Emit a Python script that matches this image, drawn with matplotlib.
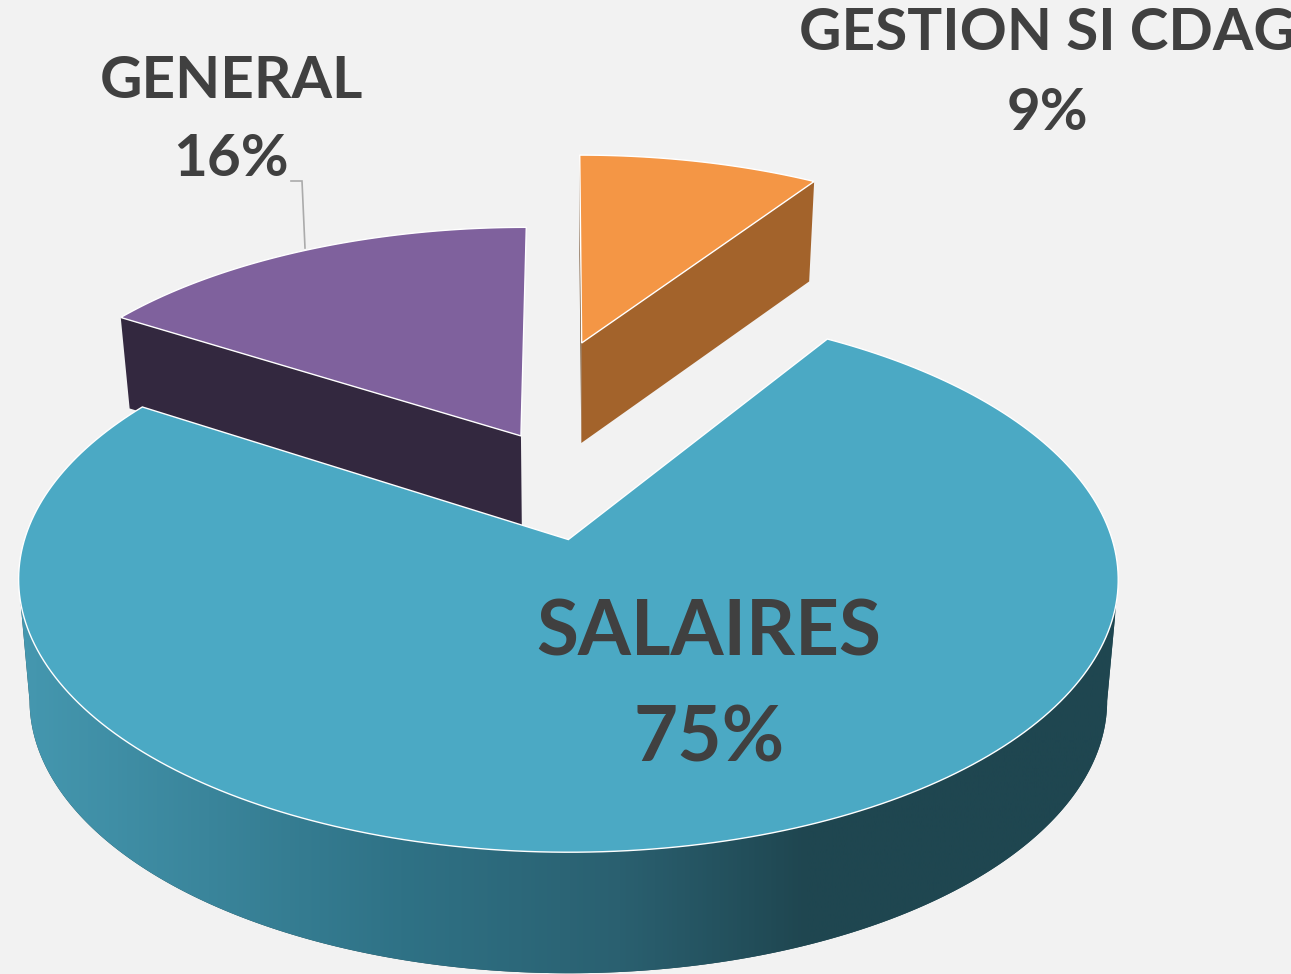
import numpy as np
import matplotlib.pyplot as plt
from matplotlib.colors import LinearSegmentedColormap
from matplotlib.patches import Polygon

plt.rcParams['font.family'] = ['Lato', 'DejaVu Sans']

# data, clockwise from 12 o'clock
labels = ['GESTION SI CDAG', 'SALAIRES', 'GENERAL']
shares = [9, 75, 16]
explode = [0.431, 0.422, 0.0]

top_colors = ['#F49645', '#4BA9C4', '#7F619D']
wall_colors = ['#A3632B', '#1F4650', '#33283F']
depths = [100, 121, 91]

# perspective of the pie plane in pixels
CX, CY = 565, 540
A, B, K = 544, 267, 0.1465
PIE_X, PIE_Y = -0.0859, 0.4135
BOTTOM_SCALE = 0.98


def project(u, v, depth=0):
    w = 1 + K * v
    sx = A * u / w
    if depth:
        sx = sx * BOTTOM_SCALE
    return CX + sx, CY - B * v / w + depth


def arc_points(cu, cv, a1, a2, depth=0, n=240):
    t = np.radians(np.linspace(a1, a2, n))
    x, y = project(cu + np.cos(t), cv + np.sin(t), depth)
    return np.column_stack([x, y])


fig = plt.figure(figsize=(12.91, 9.74), dpi=100, facecolor='#F2F2F2')
ax = fig.add_axes([0, 0, 1, 1])
ax.set_xlim(0, 1291)
ax.set_ylim(974, 0)
ax.axis('off')

# start and end angle + apex of each slice
angles = 90 - np.cumsum([0] + shares) * 3.6
slices = []
for i in range(3):
    a1, a2 = angles[i], angles[i + 1]
    mid = np.radians((a1 + a2) / 2)
    cu = PIE_X + explode[i] * np.cos(mid)
    cv = PIE_Y + explode[i] * np.sin(mid)
    slices.append((a1, a2, cu, cv))


def radial_wall(i, ang, color, z):
    a1, a2, cu, cv = slices[i]
    t = np.radians(ang)
    u, v = cu + np.cos(t), cv + np.sin(t)
    pts = [project(cu, cv), project(u, v), project(u, v, depths[i]), project(cu, cv, depths[i])]
    ax.add_patch(Polygon(pts, closed=True, fc=color, ec='none', zorder=z))


def top_face(i, z):
    a1, a2, cu, cv = slices[i]
    arc = arc_points(cu, cv, a1, a2)
    pts = np.vstack([[project(cu, cv)], arc])
    ax.add_patch(Polygon(pts, closed=True, fc=top_colors[i], ec='white', lw=1.0, joinstyle='miter', zorder=z))


# gestion: dark sliver + front wall
radial_wall(0, angles[0], '#69431F', 1)
radial_wall(0, angles[1], wall_colors[0], 2)
top_face(0, 3)

# general
radial_wall(2, angles[2] + 360 * 0 - 0, wall_colors[2], 1)
top_face(2, 3)

# salaires wall with the horizontal shading
a1, a2, cu, cv = slices[1]
wall_top = arc_points(cu, cv, -167, -13)
wall_bot = arc_points(cu, cv, -8.5, -171.5, depths[1])
wall = Polygon(np.vstack([wall_top, wall_bot]), closed=True, fc=wall_colors[1], ec='none', zorder=4)
ax.add_patch(wall)
shade = LinearSegmentedColormap.from_list('wall', [(0, '#4598B0'), (0.35, '#2F7286'), (0.55, '#2A6070'), (0.72, '#1F4650'), (1, '#1F4650')])
img = ax.imshow(np.linspace(0, 1, 512).reshape(1, -1), cmap=shade, extent=[15, 1115, 974, 500], aspect='auto', zorder=5)
img.set_clip_path(wall)
ax.set_xlim(0, 1291)
ax.set_ylim(974, 0)
top_face(1, 6)

# leader line of the general label
ax.plot([291, 302, 305], [181, 181, 248], color='#ABABAB', lw=1.2, zorder=2, solid_joinstyle='miter')

text_color = '#404040'
ax.text(1047, 33, labels[0], color=text_color, fontsize=42, fontweight='bold', ha='center', va='center', zorder=8)
ax.text(1047, 113, f'{shares[0]}%', color=text_color, fontsize=42, fontweight='bold', ha='center', va='center', zorder=8)
ax.text(231, 82, labels[2], color=text_color, fontsize=42, fontweight='bold', ha='center', va='center', zorder=8)
ax.text(231, 160, f'{shares[2]}%', color=text_color, fontsize=42, fontweight='bold', ha='center', va='center', zorder=8)
ax.text(709, 634, labels[1], color=text_color, fontsize=55, fontweight='bold', ha='center', va='center', zorder=8)
ax.text(709, 740, f'{shares[1]}%', color=text_color, fontsize=55, fontweight='bold', ha='center', va='center', zorder=8)

fig.savefig('out.png', dpi=100, facecolor=fig.get_facecolor())
